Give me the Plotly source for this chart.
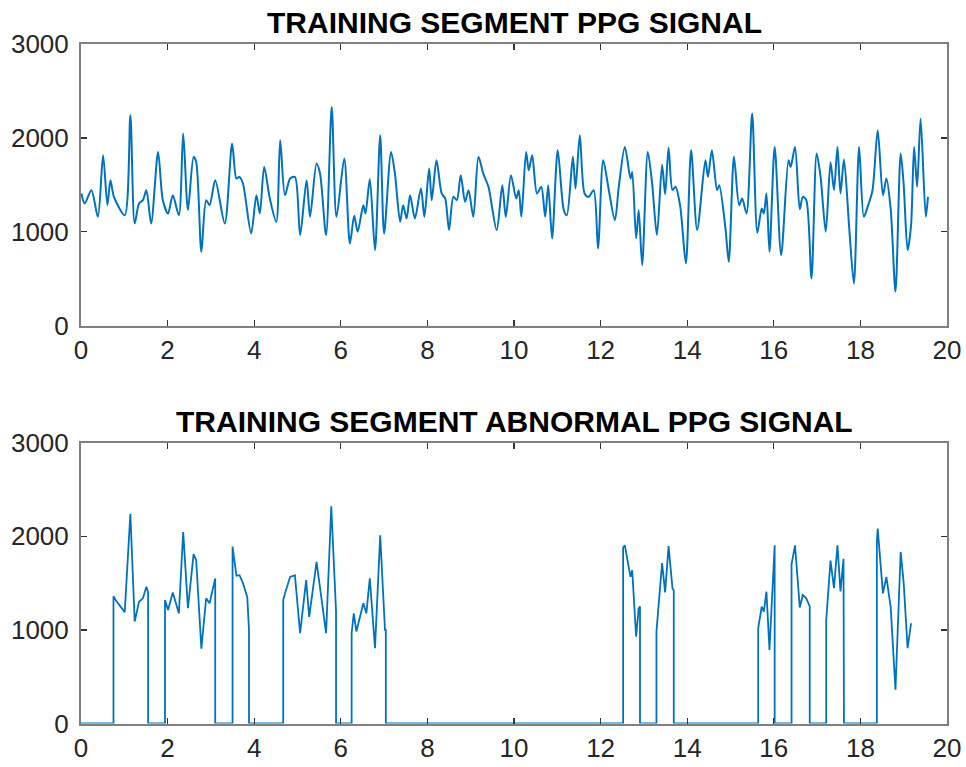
import plotly.graph_objects as go

# ---- data ----
ppg_t = [0.01, 0.085, 0.24, 0.39, 0.51, 0.61, 0.68, 0.76, 1.01, 1.14, 1.24, 1.34, 1.43, 1.51, 1.62,
         1.78, 1.89, 2.01, 2.12, 2.26, 2.36, 2.47, 2.60, 2.66, 2.78, 2.89, 2.97, 3.10, 3.32, 3.49,
         3.59, 3.66, 3.74, 3.93, 4.05, 4.13, 4.23, 4.36, 4.51, 4.60, 4.71, 4.83, 4.94, 5.06, 5.21,
         5.29, 5.44, 5.52, 5.66, 5.79, 5.90, 6.08, 6.21, 6.31, 6.39, 6.52, 6.57, 6.67, 6.79, 6.91,
         7.00, 7.16, 7.25, 7.37, 7.44, 7.52, 7.60, 7.71, 7.85, 7.93, 8.04, 8.10, 8.21, 8.33, 8.41,
         8.50, 8.60, 8.68, 8.77, 8.87, 8.95, 9.06, 9.18, 9.29, 9.41, 9.60, 9.73, 9.81, 9.93, 10.05,
         10.11, 10.17, 10.28, 10.34, 10.42, 10.53, 10.63, 10.72, 10.79, 10.88, 11.01, 11.15, 11.22,
         11.36, 11.42, 11.52, 11.63, 11.72, 11.84, 11.94, 12.06, 12.19, 12.33, 12.42, 12.56, 12.69,
         12.73, 12.82, 12.88, 12.96, 13.09, 13.19, 13.30, 13.42, 13.49, 13.57, 13.66, 13.73, 13.84,
         13.97, 14.09, 14.23, 14.42, 14.48, 14.57, 14.69, 14.74, 14.88, 14.96, 15.08, 15.20, 15.27,
         15.37, 15.50, 15.62, 15.72, 15.77, 15.83, 15.90, 16.02, 16.17, 16.34, 16.39, 16.49, 16.60,
         16.67, 16.75, 16.87, 16.99, 17.08, 17.20, 17.31, 17.39, 17.47, 17.54, 17.62, 17.74, 17.85,
         17.97, 18.08, 18.18, 18.28, 18.40, 18.52, 18.60, 18.70, 18.81, 18.93, 19.00, 19.09, 19.17,
         19.24, 19.31, 19.39, 19.51, 19.56]
ppg_v = [1408, 1301, 1443, 1160, 1816, 1284, 1550, 1372, 1177, 2241, 1089, 1301, 1337, 1443, 1089,
         1851, 1337, 1195, 1390, 1177, 2046, 1231, 1798, 1745, 787, 1337, 1284, 1550, 1089, 1940,
         1567, 1585, 1514, 982, 1390, 1195, 1691, 1355, 1106, 1975, 1390, 1567, 1585, 965, 1550,
         1160, 1727, 1620, 965, 2330, 1160, 1780, 876, 1170, 1000, 1284, 1195, 1560, 805, 2028,
         980, 1851, 1620, 1106, 1284, 1142, 1390, 1142, 1461, 1160, 1674, 1337, 1762, 1408, 1355,
         1018, 1372, 1337, 1603, 1319, 1443, 1160, 1798, 1620, 1479, 1018, 1496, 1160, 1603, 1355,
         1443, 1160, 1851, 1656, 1816, 1408, 1479, 1160, 1496, 929, 1869, 1231, 1177,
         1798, 1461, 2028, 1408, 1372, 1443, 823, 1762, 1443, 1124, 1479, 1904, 1567,
         1638, 929, 1231, 645, 1851, 1514, 965, 1715, 1400, 1895, 1445, 1479, 1266,
         663, 1869, 1018, 1762, 1585, 1869, 1443, 1496, 1053, 681, 1798, 1284, 1355,
         1195, 2259, 990, 1248, 1195, 1408, 787, 1904, 752, 1762, 1691, 1904, 1240,
         1372, 1337, 504, 1833, 1585, 1000, 1740, 1445, 1904, 1410, 1770, 1053, 450,
         1904, 1160, 1284, 1443, 2082, 1390, 1567, 1240, 362, 1833, 1500, 805, 1071,
         1904, 1479, 2206, 1160, 1372]

abn_t = [0.00, 0.75, 0.75, 0.80, 1.01, 1.14, 1.24, 1.34, 1.43, 1.51, 1.55, 1.55,
         1.94, 1.94, 2.01, 2.12, 2.26, 2.36, 2.47, 2.60, 2.66, 2.78, 2.89, 2.97, 3.10, 3.10,
         3.50, 3.50, 3.59, 3.66, 3.74, 3.84, 3.88, 3.88,
         4.67, 4.67, 4.71, 4.83, 4.94, 5.06, 5.20, 5.27, 5.44, 5.66, 5.78, 5.89, 5.89,
         6.25, 6.25, 6.30, 6.36, 6.52, 6.59, 6.67, 6.79, 6.91, 7.02, 7.04, 7.04,
         12.52, 12.52, 12.56, 12.69, 12.73, 12.82, 12.88, 12.91, 12.91,
         13.29, 13.29, 13.42, 13.49, 13.57, 13.66, 13.69, 13.69,
         15.64, 15.64, 15.72, 15.77, 15.83, 15.90, 16.02, 16.02,
         16.41, 16.41, 16.49, 16.60, 16.67, 16.75, 16.83, 16.83,
         17.21, 17.21, 17.31, 17.39, 17.47, 17.54, 17.61, 17.62,
         18.38, 18.38, 18.40, 18.52, 18.60, 18.70, 18.81, 18.93, 19.00, 19.09, 19.17]
abn_v = [0, 0, 1360, 1320, 1190, 2241, 1089, 1301, 1337, 1460, 1400, 0,
         0, 1319, 1213, 1400, 1177, 2046, 1231, 1810, 1745, 800, 1337, 1284, 1550, 0,
         0, 1890, 1580, 1585, 1500, 1350, 1000, 0,
         0, 1319, 1390, 1567, 1585, 965, 1532, 1138, 1727, 965, 2320, 1200, 0,
         0, 965, 1177, 982, 1284, 1177, 1550, 805, 2010, 1000, 1000, 0,
         0, 1880, 1904, 1567, 1638, 929, 1231, 1250, 0,
         0, 982, 1715, 1400, 1895, 1445, 1420, 0,
         0, 1018, 1248, 1195, 1408, 787, 1904, 0,
         0, 1700, 1904, 1240, 1372, 1337, 1250, 0,
         0, 1100, 1740, 1445, 1904, 1410, 1760, 0,
         0, 1950, 2082, 1390, 1567, 1240, 362, 1833, 1500, 805, 1071]

titles = ["TRAINING SEGMENT PPG SIGNAL", "TRAINING SEGMENT ABNORMAL PPG SIGNAL"]
x_ticks = [0, 2, 4, 6, 8, 10, 12, 14, 16, 18, 20]
y_ticks = [0, 1000, 2000, 3000]

LINE = "#0072BD"
W, H = 966, 767

fig = go.Figure()
fig.add_trace(go.Scatter(x=ppg_t, y=ppg_v, mode="lines",
                         line=dict(color=LINE, width=2, shape="spline", smoothing=0.8),
                         xaxis="x", yaxis="y", showlegend=False, hoverinfo="skip"))
fig.add_trace(go.Scatter(x=abn_t, y=abn_v, mode="lines",
                         line=dict(color=LINE, width=1.8),
                         xaxis="x2", yaxis="y2", showlegend=False, hoverinfo="skip"))

xdom = [81 / W, 947 / W]
top_dom = [1 - 325.7 / H, 1 - 44 / H]
bot_dom = [1 - 723.5 / H, 1 - 442.7 / H]

axis_common = dict(showline=True, linecolor="#808080", linewidth=2, mirror="ticks",
                   ticks="inside", ticklen=6, tickwidth=1.2, tickcolor="#333333",
                   showgrid=False, zeroline=False, automargin=False,
                   tickfont=dict(family="Liberation Sans, Arial, sans-serif", size=26, color="#262626"))

fig.update_layout(
    template="none",
    width=W, height=H,
    margin=dict(l=0, r=0, t=0, b=0, pad=0),
    paper_bgcolor="white", plot_bgcolor="white",
    xaxis=dict(domain=xdom, anchor="y", range=[0, 20], tickvals=x_ticks,
               ticktext=[str(v) for v in x_ticks], ticklabelstandoff=0, **axis_common),
    yaxis=dict(domain=top_dom, anchor="x", range=[0, 3000], tickvals=y_ticks,
               ticktext=[str(v) for v in y_ticks], ticklabelstandoff=5, **axis_common),
    xaxis2=dict(domain=xdom, anchor="y2", range=[0, 20], tickvals=x_ticks,
                ticktext=[str(v) for v in x_ticks], ticklabelstandoff=0, **axis_common),
    yaxis2=dict(domain=bot_dom, anchor="x2", range=[0, 3000], tickvals=y_ticks,
                ticktext=[str(v) for v in y_ticks], ticklabelstandoff=5, **axis_common),
)

title_font = dict(family="Liberation Sans, Arial, sans-serif", size=30, color="#000000")
fig.add_annotation(text="<b>" + titles[0] + "</b>", x=514 / W, y=1 - 23 / H,
                   xref="paper", yref="paper", showarrow=False, xanchor="center",
                   yanchor="middle", font=title_font)
fig.add_annotation(text="<b>" + titles[1] + "</b>", x=514 / W, y=1 - 421 / H,
                   xref="paper", yref="paper", showarrow=False, xanchor="center",
                   yanchor="middle", font=title_font)

fig.write_html("out.html",
               config={"displayModeBar": False, "staticPlot": True},
               post_script="document.body.style.margin='0px';document.body.style.overflow='hidden';")
